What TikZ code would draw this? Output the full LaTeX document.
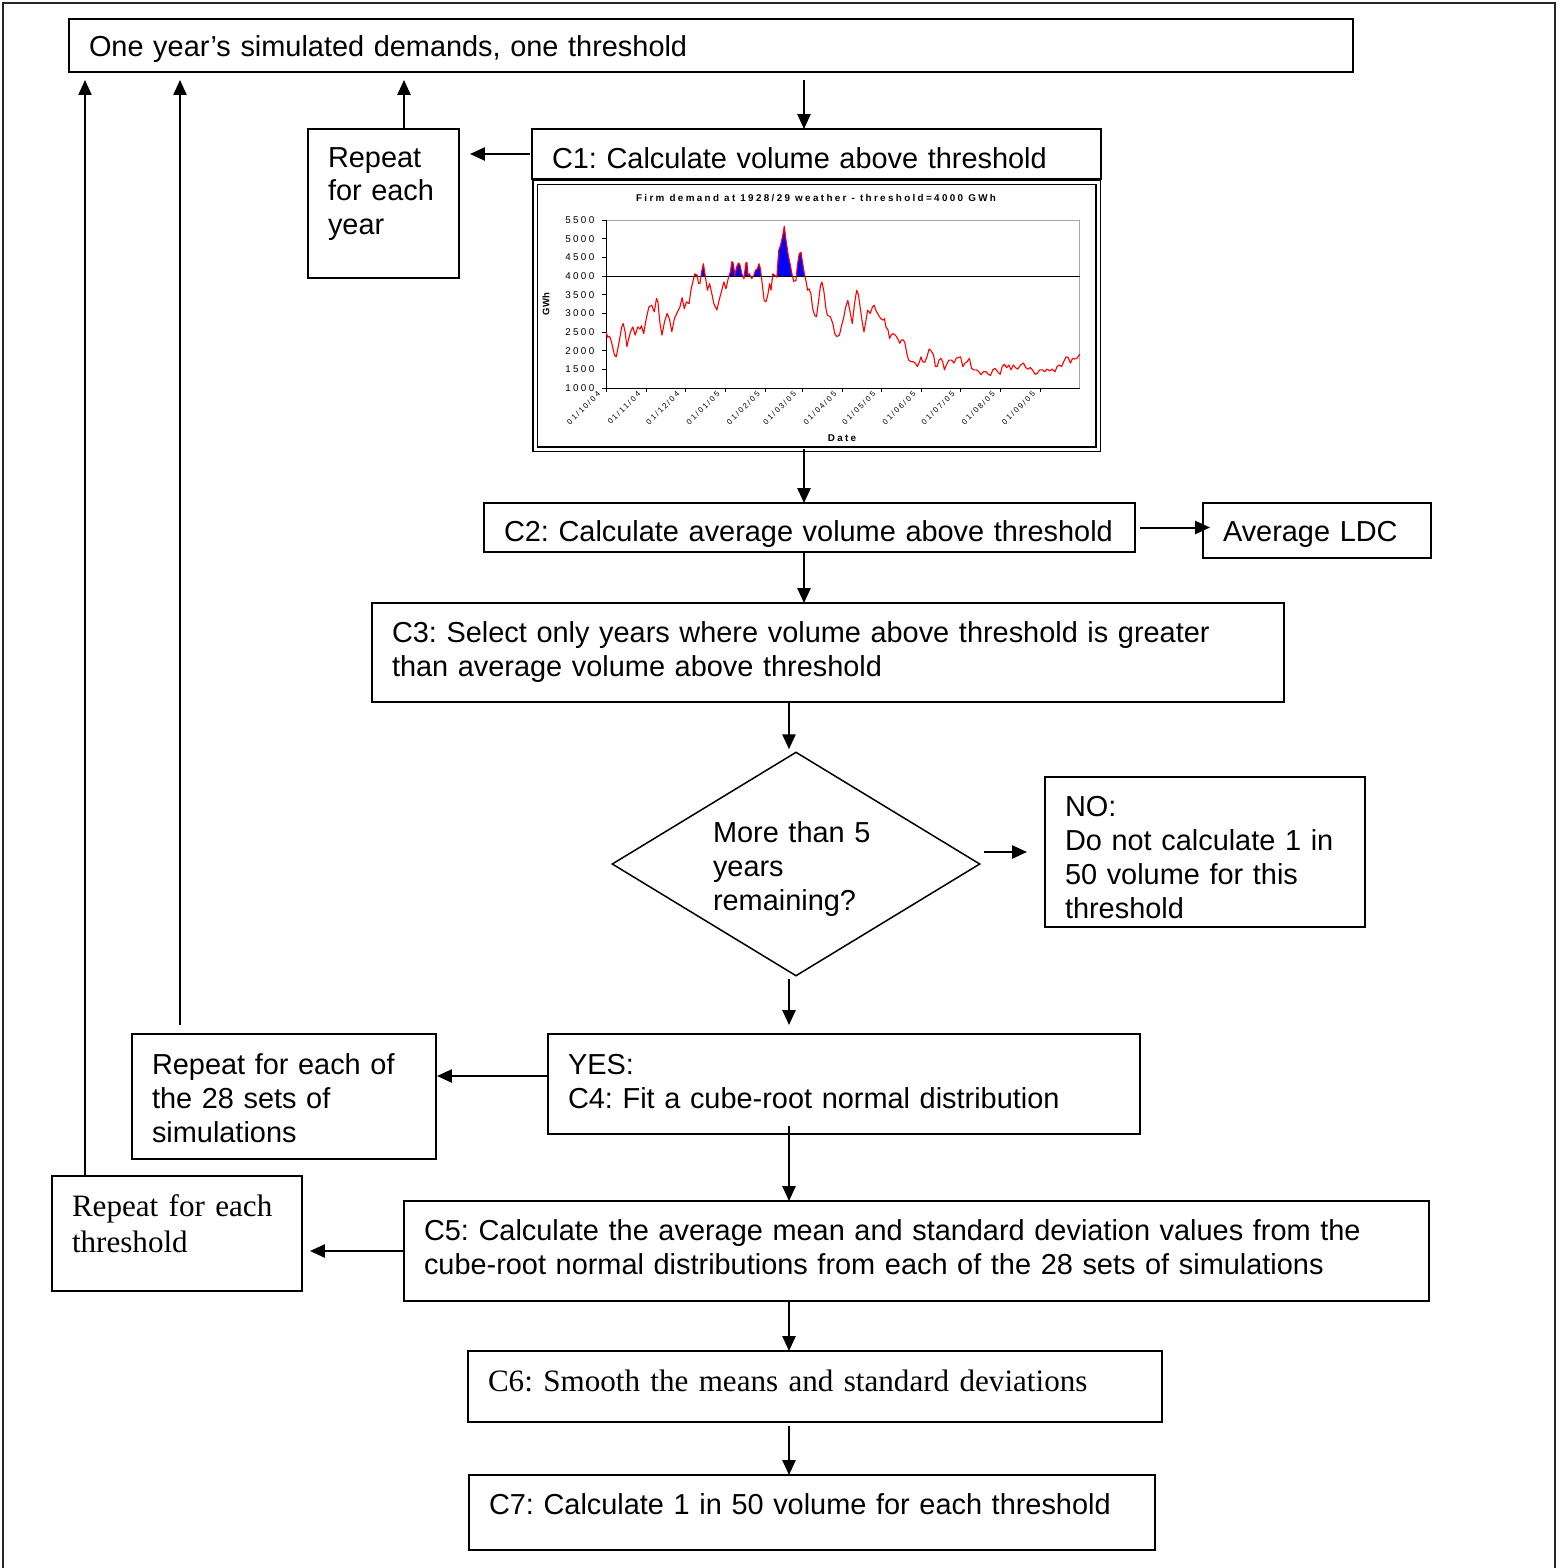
\documentclass[tikz,border=0pt]{standalone}
\usepackage{fontspec}
\setmainfont{Liberation Sans}
\newfontfamily\timesface{Liberation Serif}
\newfontfamily\chartface[LetterSpace=24]{Liberation Sans}
\usepackage{tikz}
\usetikzlibrary{calc,arrows.meta,shapes.geometric}

\newlength{\pix}
\setlength{\pix}{0.02cm}

\newcommand{\bodysize}{\frenchspacing\fontsize{16.45pt}{19.35pt}\selectfont}
\newcommand{\timessize}{\frenchspacing\timesface\fontsize{17.7pt}{21pt}\selectfont}
\newcommand{\chartsize}{\chartface\fontsize{5.6pt}{6.5pt}\selectfont}
\newcommand{\ticksize}{\chartface\fontsize{4.4pt}{5pt}\selectfont}

\newcommand{\demandline}{plot coordinates {
(0,2500) (1.4,2360) (2.8,2390) (4.2,2240) (6.5,1890) (7.9,1840) (9.9,2200) (12.1,2640)
(13.2,2730) (14.7,2510) (16.1,2110) (17.2,2290) (18.9,2510) (20.6,2640) (22.5,2420) (24.5,2640)
(26.2,2580) (27.3,2670) (29.0,2460) (31.0,2860) (33.0,3170) (35.2,3220) (37.2,3040) (38.9,3400)
(40.0,3310) (41.4,2780) (43.1,2420) (45.1,2780) (47.1,3000) (48.8,2860) (50.7,2510) (52.7,2860)
(55.0,3040) (56.9,3170) (58.6,3420) (60.3,3130) (62.0,3310) (64.0,3260) (65.4,3620) (66.8,3840)
(68.5,4060) (70.2,4020) (71.3,3800) (72.4,3800) (73.6,4110) (75.0,4330) (76.4,4020) (78.1,3620)
(79.8,3800) (81.5,3530) (83.1,3260) (85.4,3090) (87.1,3350) (88.8,3570) (90.8,3840) (92.4,3660)
(94.4,3970) (95.8,4110) (97.0,4390) (98.1,4330) (99.2,4020) (100.6,4240) (102.0,4350) (103.2,4300)
(104.6,4060) (106.3,3930) (107.7,4350) (108.5,4370) (109.4,4020) (110.5,4060) (112.2,3930) (113.9,4020)
(115.0,4150) (116.7,4200) (117.8,4330) (118.9,4200) (120.3,3800) (121.8,3350) (123.2,3310) (124.6,3490)
(126.0,3800) (127.1,3620) (128.5,4060) (129.9,4020) (131.6,3970) (133.0,4680) (134.4,4820) (136.1,5080)
(137.3,5330) (138.7,4950) (140.4,4550) (141.8,4330) (143.2,4060) (144.6,3860) (146.3,3880) (147.4,4280)
(148.8,4590) (150.2,4640) (151.4,4350) (152.8,4060) (154.2,3840) (155.3,3620) (156.4,3660) (157.8,3530)
(159.2,3130) (160.7,2950) (162.1,2910) (163.8,3350) (165.2,3750) (166.3,3840) (167.7,3620) (169.4,3130)
(170.5,2950) (172.8,2910) (174.7,2730) (176.2,2460) (177.8,2380) (179.8,2420) (181.2,2640) (182.9,2860)
(184.6,3170) (186.3,3350) (188.0,3040) (189.7,2730) (191.4,3260) (193.1,3620) (194.5,3490) (195.9,3130)
(197.3,2780) (198.7,2510) (200.1,2780) (201.5,3090) (203.5,3000) (205.2,3170) (206.6,3220) (207.7,3090)
(210.0,2950) (211.7,2860) (213.4,2820) (214.5,2860) (215.6,2640) (217.3,2550) (218.4,2330) (219.6,2420)
(221.2,2460) (222.9,2420) (224.6,2330) (226.3,2200) (227.5,2290) (229.1,2290) (230.3,2200) (231.7,1930)
(233.1,1750) (234.8,1710) (236.5,1710) (238.2,1670) (239.8,1580) (241.5,1710) (242.7,1840) (243.8,1710)
(245.5,1690) (247.2,1840) (248.9,2050) (250.6,1990) (252.3,1890) (253.7,1580) (255.1,1580) (256.5,1750)
(257.9,1800) (259.3,1710) (260.7,1490) (262.1,1620) (264.1,1750) (266.3,1750) (268.0,1670) (269.7,1800)
(271.4,1820) (273.1,1840) (274.8,1580) (276.5,1670) (278.2,1710) (279.9,1800) (281.6,1530) (283.3,1490)
(285.5,1490) (287.2,1440) (288.9,1360) (290.6,1440) (292.8,1440) (294.5,1370) (296.2,1340) (297.9,1490)
(299.6,1530) (301.9,1430) (303.6,1370) (305.2,1580) (306.9,1640) (308.6,1550) (310.3,1620) (312.0,1490)
(313.7,1620) (315.4,1550) (317.1,1510) (319.3,1620) (321.6,1670) (323.3,1550) (325.0,1510) (326.7,1550)
(328.4,1490) (330.6,1370) (332.3,1400) (334.0,1490) (336.2,1490) (337.9,1440) (339.6,1510) (341.9,1460)
(343.6,1510) (345.8,1440) (347.5,1580) (349.2,1620) (350.9,1580) (352.6,1710) (354.3,1840) (356.0,1820)
(357.7,1670) (359.4,1800) (361.0,1780) (362.7,1800) (365.0,1910)}}

\begin{document}
\begin{tikzpicture}[x=0.02cm, y=-0.02cm]
    \useasboundingbox (0,0) rectangle (1562,1568);
    \tikzstyle{stepbox}=[rectangle, draw, line width=2\pix, anchor=north west, inner xsep=20\pix,
    inner ysep=0pt, outer sep=0pt, align=left, font=\bodysize]
    \tikzstyle{arr}=[line width=2\pix, -{Triangle[length=8.5pt,width=7.5pt]}]
    \tikzstyle{ylab}=[anchor=east, inner sep=0pt, xshift=-6.5pt, font=\chartsize]
    \tikzstyle{xlab}=[xshift=-4pt, yshift=-2.5pt, anchor=east, rotate=45, inner sep=0pt, font=\ticksize]

    \draw[line width=2\pix, black!85] (3,1568) -- (3,3) -- (1555,3) -- (1555,1568);

    \coordinate (upper) at (804,0);
    \coordinate (lower) at (789,0);
    \coordinate (yearup) at (404,0);
    \coordinate (simup) at (180,0);
    \coordinate (thrup) at (85,0);

    \node[stepbox, text width=1244\pix, text height=38\pix, text depth=15\pix](top) at (69,19){One year’s simulated demands, one threshold};

    \node[draw, double, double distance=3\pix, line width=1.5\pix, minimum width=563\pix,
    minimum height=267\pix, inner sep=0pt, outer sep=0pt](chart) at (816.5,315.5){};
    \node[font=\chartsize\bfseries](charttitle) at (816,198){Firm demand at 1928/29 weather - threshold=4000 GWh};
    \node[font=\fontsize{5.4pt}{6pt}\selectfont\bfseries, rotate=90](gwh) at (546,304){GWh};
    \node[font=\chartsize\bfseries](date) at (842,438){Date};

    \begin{scope}[shift={(606,388)}, x=0.025973cm, y=0.00075111cm, yshift=-0.75111cm]
        \begin{scope}
            \clip (0,4000) rectangle (365,5500);
            \fill[blue] \demandline -- (365,4000) -- (0,4000) -- cycle;
        \end{scope}
        \draw[gray!70, line width=1\pix] (0,5500) -- (365,5500) -- (365,1000);
        \draw[line width=1\pix] (0,5500) -- (0,1000) -- (365,1000);
        \draw[line width=1\pix] (0,4000) -- (365,4000);
        \draw[red, line width=1.1\pix, line join=round] \demandline;
        \draw[line width=1\pix] (0,1000) -- (-3,1000) (0,1500) -- (-3,1500) (0,2000) -- (-3,2000)
        (0,2500) -- (-3,2500) (0,3000) -- (-3,3000) (0,3500) -- (-3,3500) (0,4000) -- (-3,4000)
        (0,4500) -- (-3,4500) (0,5000) -- (-3,5000) (0,5500) -- (-3,5500);
        \draw[line width=1\pix] (0,1000) -- (0,900) (31,1000) -- (31,900) (61,1000) -- (61,900)
        (92,1000) -- (92,900) (123,1000) -- (123,900) (151,1000) -- (151,900) (182,1000) -- (182,900)
        (212,1000) -- (212,900) (243,1000) -- (243,900) (273,1000) -- (273,900) (304,1000) -- (304,900)
        (335,1000) -- (335,900);
        \node[ylab](y1000) at (0,1000){1000};
        \node[ylab](y1500) at (0,1500){1500};
        \node[ylab](y2000) at (0,2000){2000};
        \node[ylab](y2500) at (0,2500){2500};
        \node[ylab](y3000) at (0,3000){3000};
        \node[ylab](y3500) at (0,3500){3500};
        \node[ylab](y4000) at (0,4000){4000};
        \node[ylab](y4500) at (0,4500){4500};
        \node[ylab](y5000) at (0,5000){5000};
        \node[ylab](y5500) at (0,5500){5500};
        \node[xlab](oct) at (0,1000){01/10/04};
        \node[xlab](nov) at (31,1000){01/11/04};
        \node[xlab](dec04) at (61,1000){01/12/04};
        \node[xlab](jan) at (92,1000){01/01/05};
        \node[xlab](feb) at (123,1000){01/02/05};
        \node[xlab](mar) at (151,1000){01/03/05};
        \node[xlab](apr) at (182,1000){01/04/05};
        \node[xlab](may) at (212,1000){01/05/05};
        \node[xlab](jun) at (243,1000){01/06/05};
        \node[xlab](jul) at (273,1000){01/07/05};
        \node[xlab](aug) at (304,1000){01/08/05};
        \node[xlab](sep) at (335,1000){01/09/05};
    \end{scope}

    \node[stepbox, text width=529\pix, text height=39\pix, text depth=11\pix](c1) at (532,129){C1: Calculate volume above threshold};
    \node[stepbox, text width=111\pix, text height=38\pix, text depth=111\pix](year) at (308,129){Repeat\\for each\\year};
    \node[stepbox, text width=611\pix, text height=38\pix, text depth=11\pix](c2) at (484,503){C2: Calculate average volume above threshold};
    \node[stepbox, text width=188\pix, text height=38\pix, text depth=17\pix](avg) at (1203,503){Average LDC};
    \node[stepbox, text width=872\pix, text height=39\pix, text depth=60\pix](c3) at (372,603){C3: Select only years where volume above threshold is greater\\than average volume above threshold};
    \node[diamond, draw, line width=1.5\pix, aspect=1.64, minimum width=368\pix, minimum height=224\pix,
    inner sep=0pt, text width=166\pix, align=left, text height=22\pix, text depth=66\pix,
    font=\bodysize](dec) at (796,864){More than 5\\years\\remaining?};
    \node[stepbox, text width=280\pix, text height=39\pix, text depth=111\pix](no) at (1045,777){NO:\\Do not calculate 1 in\\50 volume for this\\threshold};
    \node[stepbox, text width=552\pix, text height=40\pix, text depth=60\pix](c4) at (548,1034){YES:\\C4: Fit a cube-root normal distribution};
    \node[stepbox, text width=264\pix, text height=40\pix, text depth=85\pix](r28) at (132,1034){Repeat for each of\\the 28 sets of\\simulations};
    \node[stepbox, font=\timessize, text width=210\pix, text height=40\pix, text depth=75\pix](thr) at (52,1176){Repeat for each\\threshold};
    \node[stepbox, text width=985\pix, text height=39\pix, text depth=61\pix](c5) at (404,1201){C5: Calculate the average mean and standard deviation values from the\\cube-root normal distributions from each of the 28 sets of simulations};
    \node[stepbox, font=\timessize, text width=654\pix, text height=40\pix, text depth=31\pix](c6) at (468,1351){C6: Smooth the means and standard deviations};
    \node[stepbox, text width=646\pix, text height=39\pix, text depth=36\pix](c7) at (469,1475){C7: Calculate 1 in 50 volume for each threshold};

    \draw[arr] ($(top.south -| upper)+(0,8)$) -- (c1.north -| upper);
    \draw[arr] ($(c1.west)+(-2,0)$) -- ($(year.east |- c1.west)+(11,0)$);
    \draw[arr] (year.north -| yearup) -- ($(top.south -| yearup)+(0,8)$);
    \draw[arr] (chart.south -| upper) -- (c2.north -| upper);
    \draw[arr] ($(c2.east)+(5,0)$) -- ($(avg.west |- c2.east)+(7,0)$);
    \draw[arr] (c2.south -| upper) -- (c3.north -| upper);
    \draw[arr] (c3.south -| lower) -- ($(dec.north -| lower)+(0,-2)$);
    \draw[arr] ($(dec.east |- no.west)+(3,0)$) -- ($(no.west)+(-18,0)$);
    \draw[arr] ($(dec.south -| lower)+(0,2)$) -- ($(c4.north -| lower)+(0,-9)$);
    \draw[arr] ($(c4.west)+(0,-8)$) -- ($(r28.east |- c4.west)+(1,-8)$);
    \draw[arr, line width=1.5\pix] ($(r28.north -| simup)+(0,-9)$) -- ($(top.south -| simup)+(0,8)$);
    \draw[arr] ($(c4.south -| lower)+(0,-8)$) -- (c5.north -| lower);
    \draw[arr] (c5.west) -- ($(thr.east |- c5.west)+(8,0)$);
    \draw[arr, line width=1.5\pix] (thr.north -| thrup) -- ($(top.south -| thrup)+(0,8)$);
    \draw[arr] (c5.south -| lower) -- (c6.north -| lower);
    \draw[arr] ($(c6.south -| lower)+(0,4)$) -- (c7.north -| lower);
\end{tikzpicture}
\end{document}
